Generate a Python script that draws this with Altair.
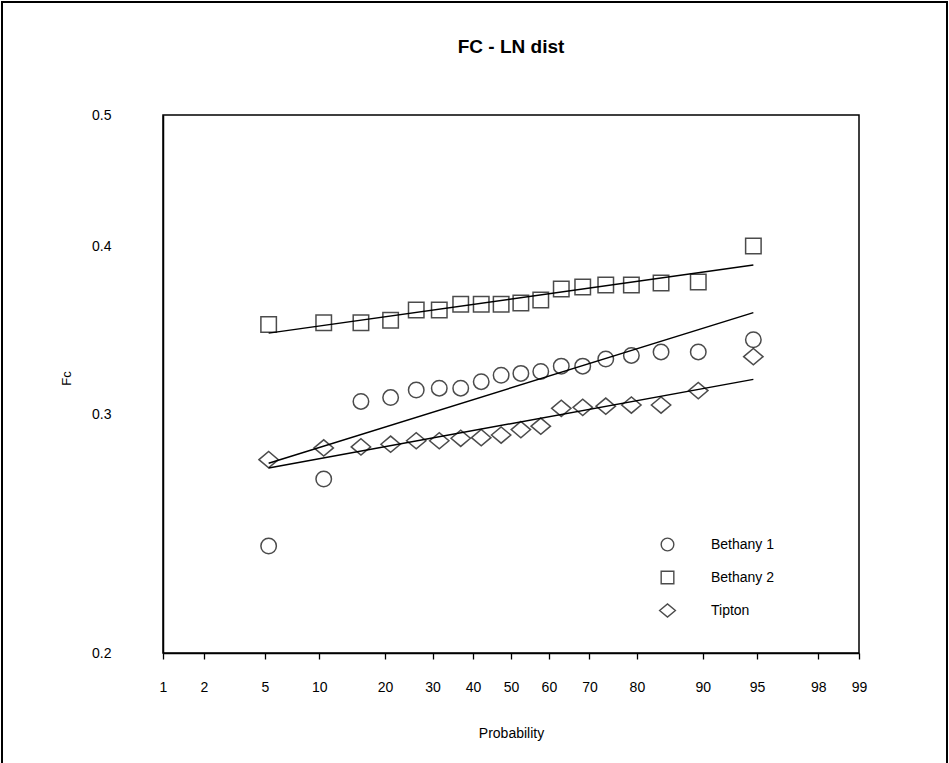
import altair as alt
import pandas as pd

# Probability plotting positions (percent)
prob = [5.26, 10.53, 15.79, 21.05, 26.32, 31.58, 36.84, 42.11, 47.37,
        52.63, 57.89, 63.16, 68.42, 73.68, 78.95, 84.21, 89.47, 94.74]

bethany1 = [0.240, 0.269, 0.307, 0.309, 0.313, 0.314, 0.314, 0.3175, 0.321,
            0.322, 0.323, 0.326, 0.326, 0.330, 0.332, 0.334, 0.334, 0.341]
bethany2 = [0.350, 0.351, 0.351, 0.3525, 0.3587, 0.3587, 0.3623, 0.3623, 0.3623,
            0.363, 0.3648, 0.3717, 0.373, 0.3743, 0.3743, 0.3756, 0.3762, 0.400]
tipton = [0.278, 0.2836, 0.2841, 0.2854, 0.2871, 0.2871, 0.2883, 0.2886, 0.2899,
          0.2926, 0.2943, 0.3034, 0.3039, 0.3045, 0.3051, 0.3051, 0.3127, 0.3313]

series_names = ["Bethany 1", "Bethany 2", "Tipton"]
shapes = ["circle", "square", "M -1.25 0 L 0 -1.05 L 1.25 0 L 0 1.05 Z"]

x_ticks = [1, 2, 5, 10, 20, 30, 40, 50, 60, 70, 80, 90, 95, 98, 99]
y_ticks = [0.2, 0.3, 0.4, 0.5]
title_text = ["FC - LN dist"]

rows = []
for name, vals in zip(series_names, [bethany1, bethany2, tipton]):
    for p, v in zip(prob, vals):
        rows.append({"series": name, "prob": p, "fc": v})
df = pd.DataFrame(rows)

FONT = "Liberation Sans"

base = alt.Chart(df).transform_calculate(
    z="quantileNormal(datum.prob / 100)",
    lny="log(datum.fc)",
)

zmax = 2.3263478740408408
x_tick_z = [-2.3263, -2.0537, -1.6449, -1.2816, -0.8416, -0.5244, -0.2533, 0.0,
            0.2533, 0.5244, 0.8416, 1.2816, 1.6449, 2.0537, 2.3263]

x_enc = alt.X(
    "z:Q",
    scale=alt.Scale(domain=[-zmax, zmax], nice=False, zero=False),
    axis=alt.Axis(
        title="Probability",
        values=x_tick_z,
        labelExpr="format(round(cumulativeNormal(datum.value) * 100), 'd')",
        grid=False,
        tickSize=6,
        tickColor="black",
        tickWidth=1.3,
        domainColor="black",
        domainWidth=1.5,
        labelPadding=21,
        titlePadding=32,
        labelFont=FONT,
        titleFont=FONT,
        labelFontSize=14,
        titleFontSize=14,
        titleFontWeight="normal",
        labelColor="black",
        titleColor="black",
        labelFlush=False,
    ),
)

y_scale = alt.Scale(type="log", domain=[0.2, 0.5], nice=False)
y_enc = alt.Y(
    "fc:Q",
    scale=y_scale,
    axis=alt.Axis(
        title="Fc",
        values=y_ticks,
        format=".1f",
        grid=False,
        ticks=False,
        domainColor="black",
        domainWidth=1.5,
        labelPadding=52,
        labelFont=FONT,
        titleFont=FONT,
        labelFontSize=14,
        titleFontSize=13,
        titleFontWeight="normal",
        labelColor="black",
        titleColor="black",
        titleX=-97,
        titleY=263,
        titleAngle=-90,
        titleBaseline="middle",
        titleAlign="center",
    ),
)

points = base.mark_point(filled=False, stroke="black", strokeWidth=1.5, size=240).encode(
    x=x_enc,
    y=y_enc,
    shape=alt.Shape(
        "series:N",
        scale=alt.Scale(domain=series_names, range=shapes),
        legend=alt.Legend(
            title=None,
            orient="none",
            legendX=497,
            legendY=422,
            padding=0,
            rowPadding=14,
            symbolSize=160,
            symbolStrokeColor="black",
            symbolStrokeWidth=1.4,
            symbolFillColor="transparent",
            labelFont=FONT,
            labelFontSize=14,
            labelColor="black",
            labelOffset=36,
        ),
    ),
)

lines = base.transform_regression(
    "z", "lny", groupby=["series"]
).transform_calculate(
    fc="exp(datum.lny)"
).mark_line(color="black", strokeWidth=1.5).encode(
    x="z:Q",
    y=alt.Y("fc:Q", scale=y_scale),
    detail="series:N",
)

title = alt.Chart(alt.Data(values=[{"t": t} for t in title_text])).mark_text(
    font=FONT, fontSize=19, fontWeight="bold", color="black",
    align="center", baseline="middle", clip=False,
).encode(
    text="t:N", x=alt.value(348), y=alt.value(-68)
)

frame = alt.Chart(alt.Data(values=[{"a": 1}])).mark_rect(
    filled=False, stroke="black", strokeWidth=2, clip=False
).encode(
    x=alt.value(-161), x2=alt.value(784), y=alt.value(-113), y2=alt.value(700)
)

chart = alt.layer(lines, points, title, frame).properties(
    width=696,
    height=538,
    background="white",
    autosize=alt.AutoSizeParams(type="none"),
    padding={"left": 163, "top": 115, "right": 90, "bottom": 110},
).configure_view(
    stroke="black", strokeWidth=1.5
)

chart.save("out.html", embed_options={"renderer": "svg", "actions": False})
